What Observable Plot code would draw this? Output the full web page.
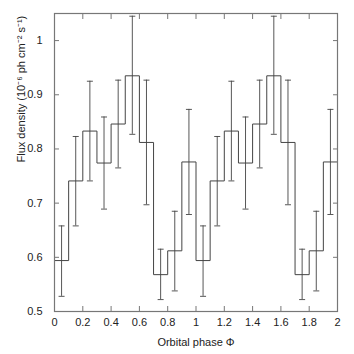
<!DOCTYPE html>
<html>
<head>
<meta charset="utf-8">
<script src="https://cdn.jsdelivr.net/npm/d3@7"></script>
<script src="https://cdn.jsdelivr.net/npm/@observablehq/plot@0.6"></script>
<style>
  html, body { margin: 0; padding: 0; background: #fff; }
  svg { display: block; }
</style>
</head>
<body>
<div id="chart"></div>
<script>
// One orbital cycle, 10 phase bins (repeated for phase 1–2)
const binStart = [0, 0.1, 0.2, 0.3, 0.4, 0.5, 0.6, 0.7, 0.8, 0.9];
const binWidth = 0.1;
const flux   = [0.594, 0.741, 0.833, 0.774, 0.846, 0.935, 0.812, 0.568, 0.612, 0.776];
const errHi  = [0.658, 0.823, 0.925, 0.859, 0.927, 1.045, 0.927, 0.615, 0.685, 0.873];
const errLo  = [0.528, 0.658, 0.741, 0.689, 0.765, 0.827, 0.697, 0.522, 0.538, 0.679];
const cycles = [0, 1];
const xTicks = [0, 0.2, 0.4, 0.6, 0.8, 1, 1.2, 1.4, 1.6, 1.8, 2];
const yTicks = [0.5, 0.6, 0.7, 0.8, 0.9, 1];
const xLabel = "Orbital phase Φ";
const yLabel = "Flux density (10⁻⁶ ph cm⁻² s⁻¹)";

const bins = cycles.flatMap(c => binStart.map((s, i) => ({
  x0: s + c, xc: s + c + binWidth / 2, v: flux[i], hi: errHi[i], lo: errLo[i]
})));
const stepPts = bins.map(b => ({x: b.x0, v: b.v}));
stepPts.push({x: bins[bins.length - 1].x0 + binWidth, v: bins[bins.length - 1].v});

const cap = {draw(ctx) { ctx.moveTo(-3, 0); ctx.lineTo(3, 0); }};
const lineColor = "#444";
const frameColor = "#777";
const fmt = d => String(+d.toFixed(2));
const blank = () => "";

const chart = Plot.plot({
  width: 354,
  height: 354,
  marginLeft: 54,
  marginRight: 17,
  marginTop: 13,
  marginBottom: 43,
  style: {fontFamily: "'Liberation Sans', Arial, sans-serif", fontSize: "11px", color: "#222"},
  x: {domain: [0, 2]},
  y: {domain: [0.5, 1.05]},
  marks: [
    Plot.ruleX(bins, {x: "xc", y1: "lo", y2: "hi", stroke: lineColor, strokeWidth: 0.9}),
    Plot.dot(bins, {x: "xc", y: "hi", symbol: cap, stroke: lineColor, fill: "none", strokeWidth: 0.9}),
    Plot.dot(bins, {x: "xc", y: "lo", symbol: cap, stroke: lineColor, fill: "none", strokeWidth: 0.9}),
    Plot.line(stepPts, {x: "x", y: "v", curve: "step-after", stroke: lineColor, strokeWidth: 1}),
    Plot.frame({stroke: frameColor, strokeWidth: 1.2}),
    Plot.axisX({anchor: "bottom", ticks: xTicks, tickSize: -5, tickPadding: 12, tickFormat: fmt, stroke: frameColor, label: null, fill: "#222"}),
    Plot.axisX({anchor: "top", ticks: xTicks, tickSize: -5, tickFormat: blank, stroke: frameColor, label: null}),
    Plot.axisY({anchor: "left", ticks: yTicks, tickSize: -5, tickPadding: 17, tickFormat: fmt, stroke: frameColor, label: null, fill: "#222"}),
    Plot.axisY({anchor: "right", ticks: yTicks, tickSize: -5, tickFormat: blank, stroke: frameColor, label: null}),
    Plot.text([xLabel], {text: d => d, frameAnchor: "bottom", dy: 34, fill: "#222", fontSize: 11}),
    Plot.text([yLabel], {text: d => d, frameAnchor: "left", dx: -33, rotate: -90, fill: "#222", fontSize: 11})
  ]
});
document.getElementById("chart").appendChild(chart);
</script>
</body>
</html>
